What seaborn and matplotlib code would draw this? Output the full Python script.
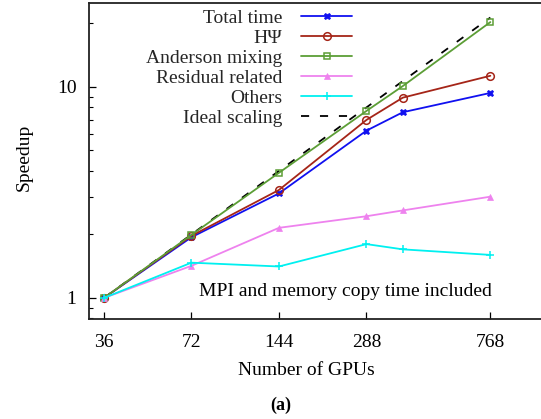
import numpy as np
import pandas as pd
import matplotlib
matplotlib.use("Agg")
import matplotlib.pyplot as plt
import matplotlib.ticker as mticker
import seaborn as sns

gpus = [36, 72, 144, 288, 384, 768]
xtick_labels = [36, 72, 144, 288, 768]
total_time = [1.0, 1.94, 3.13, 6.21, 7.59, 9.37]
hpsi = [1.0, 1.97, 3.25, 6.98, 8.9, 11.3]
anderson = [1.0, 1.99, 3.92, 7.7, 10.1, 20.3]
residual = [1.0, 1.42, 2.15, 2.44, 2.60, 3.02]
others = [1.0, 1.47, 1.41, 1.80, 1.70, 1.60]
ideal = [1.0, 2.0, 4.0, 8.0, 10.667, 21.333]

labels = ["Total time", "HΨ", "Anderson mixing", "Residual related", "Others", "Ideal scaling"]

sns.set_theme(style="ticks")
plt.rcParams["font.family"] = ["Liberation Serif", "DejaVu Serif"]
plt.rcParams["mathtext.fontset"] = "stix"

W, H = 541, 419
fig = plt.figure(figsize=(W / 100, H / 100), dpi=100)
ax = fig.add_axes([89 / W, 1 - 319 / H, 1.0 - 89 / W, (319 - 3) / H])

styles = [
    (total_time, "#1010f0", dict(marker="X", markersize=5, markerfacecolor="#1010f0", markeredgewidth=0.5)),
    (hpsi, "#a52518", dict(marker="o", markersize=5.5, markerfacecolor="none", markeredgewidth=1.1)),
    (anderson, "#5c9e36", dict(marker="s", markersize=5, markerfacecolor="none", markeredgewidth=1.1)),
    (residual, "#ee82ee", dict(marker="^", markersize=5, markerfacecolor="#ee82ee", markeredgewidth=0.5)),
    (others, "#00f0f0", dict(marker="+", markersize=5.5, markeredgewidth=1.1)),
]

sns.lineplot(x=gpus, y=ideal, ax=ax, color="black", linewidth=1.3, label=labels[5],
             dashes=False, zorder=2)
ax.lines[-1].set_dashes((4.5, 6))
for (vals, col, kw), lab in zip(styles, labels[:5]):
    sns.lineplot(x=gpus, y=vals, ax=ax, color=col, linewidth=1.3, label=lab, zorder=3,
                 markeredgecolor=col, **kw)

ax.set_xscale("log")
ax.set_yscale("log")
ax.set_xlim(32.0, 1147)
ax.set_ylim(0.795, 25)

ax.xaxis.set_major_locator(mticker.FixedLocator(xtick_labels))
ax.xaxis.set_major_formatter(mticker.FixedFormatter([str(v) for v in xtick_labels]))
ax.xaxis.set_minor_locator(mticker.NullLocator())
ax.yaxis.set_major_locator(mticker.FixedLocator([1, 10]))
ax.yaxis.set_major_formatter(mticker.FixedFormatter(["1", "10"]))
ax.yaxis.set_minor_locator(mticker.LogLocator(base=10, subs=np.arange(2, 10)))
ax.yaxis.set_minor_formatter(mticker.NullFormatter())

ax.tick_params(axis="both", which="major", direction="in", length=5, width=0.9,
               labelsize=14, color="black", labelcolor="black")
ax.tick_params(axis="x", which="major", pad=11)
ax.tick_params(axis="y", which="major", pad=9)
ax.tick_params(axis="y", which="minor", direction="in", length=3, width=0.8, color="black")

for s in ["left", "bottom", "top"]:
    ax.spines[s].set_color("#222222")
    ax.spines[s].set_linewidth(1.3)
ax.spines["right"].set_visible(False)

ax.set_xlabel("Number of GPUs", fontsize=14, color="black")
ax.set_ylabel("Speedup", fontsize=14, color="black")
ax.xaxis.set_label_coords((306 - 89) / 452, -(362 - 319) / 316)
ax.yaxis.set_label_coords(-(89 - 33) / 452, 0.51)

handles, labs = ax.get_legend_handles_labels()
order = [labs.index(l) for l in labels]
leg = ax.legend([handles[i] for i in order], [labs[i] for i in order],
                loc="upper right", bbox_to_anchor=((352 - 89) / 452, (319 - 9) / 316),
                frameon=False, markerfirst=False, fontsize=14, handlelength=2.6,
                handletextpad=1.0, labelspacing=0.13, borderpad=0, borderaxespad=0)

ax.text((492 - 89) / 452, (319 - 291) / 316, "MPI and memory copy time included",
        transform=ax.transAxes, ha="right", va="center", fontsize=14, color="black")

fig.text(281 / W, 1 - 405 / H, "(a)", ha="center", va="center", fontsize=13,
         fontweight="bold", color="black")

fig.savefig("out.png", dpi=100)
